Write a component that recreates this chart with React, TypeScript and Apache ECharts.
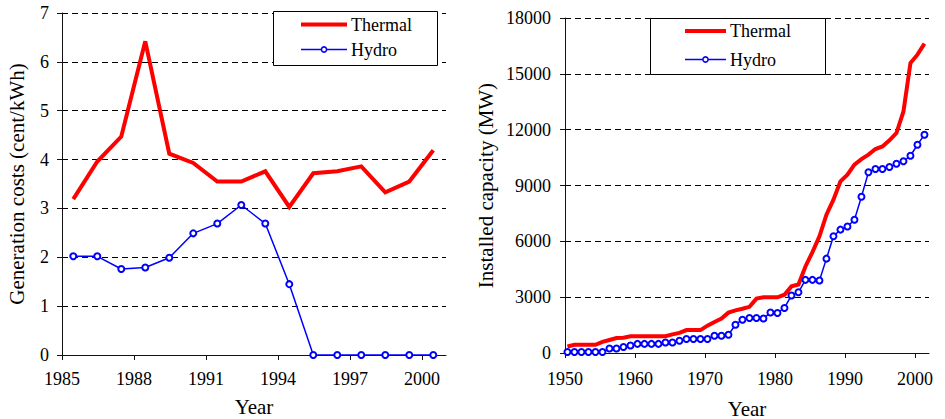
import { useEffect, useRef } from "react";
import * as echarts from "echarts";

// ---- Left chart: generation costs (cent/kWh) ----
const costYears = [1985, 1986, 1987, 1988, 1989, 1990, 1991, 1992, 1993, 1994, 1995, 1996, 1997, 1998, 1999, 2000];
const costThermal = [3.19, 3.96, 4.47, 6.42, 4.12, 3.93, 3.55, 3.55, 3.76, 3.03, 3.72, 3.76, 3.86, 3.33, 3.55, 4.19];
const costHydro = [2.02, 2.02, 1.76, 1.79, 1.99, 2.49, 2.69, 3.07, 2.69, 1.45, 0, 0, 0, 0, 0, 0];
const costXTicks = [1985, 1988, 1991, 1994, 1997, 2000];

// ---- Right chart: installed capacity (MW) ----
const capYears = [
  1950, 1951, 1952, 1953, 1954, 1955, 1956, 1957, 1958, 1959,
  1960, 1961, 1962, 1963, 1964, 1965, 1966, 1967, 1968, 1969,
  1970, 1971, 1972, 1973, 1974, 1975, 1976, 1977, 1978, 1979,
  1980, 1981, 1982, 1983, 1984, 1985, 1986, 1987, 1988, 1989,
  1990, 1991, 1992, 1993, 1994, 1995, 1996, 1997, 1998, 1999,
  2000, 2001,
];
const capThermal = [
  350, 440, 440, 440, 440, 600, 700, 800, 820, 900,
  900, 900, 900, 900, 900, 1000, 1080, 1230, 1230, 1230,
  1470, 1670, 1850, 2170, 2290, 2380, 2480, 2920, 2990, 2990,
  2990, 3130, 3580, 3680, 4650, 5420, 6270, 7430, 8240, 9220,
  9580, 10120, 10420, 10660, 10960, 11100, 11430, 11820, 12980, 15580,
  16030, 16620,
];
const capHydro = [
  50, 50, 50, 50, 50, 50, 240, 240, 320, 400,
  490, 490, 490, 490, 560, 560, 660, 750, 750, 750,
  750, 930, 930, 980, 1520, 1790, 1880, 1880, 1850, 2180,
  2150, 2420, 3090, 3260, 3930, 3930, 3900, 5070, 6270, 6630,
  6800, 7160, 8400, 9710, 9890, 9890, 9990, 10170, 10300, 10600,
  11190, 11730,
];
const capXTicks = [1950, 1960, 1970, 1980, 1990, 2000];

const seriesNames = ["Thermal", "Hydro"];

// values are yearly (mid-year) observations
const COST_OFFSET = 0.47;
const CAP_OFFSET = 0.35;

const FONT = "Liberation Serif";
const RED = "#ff0000";
const BLUE = "#0000ff";

function legendBox(x: number, y: number, w: number, h: number, lineX0: number, lineX1: number, row1: number, row2: number) {
  const textX = lineX1 + 4;
  const font = `18px "${FONT}"`;
  return {
    type: "group",
    z: 100,
    children: [
      { type: "rect", z: 100, shape: { x, y, width: w, height: h }, style: { fill: "#fff", stroke: "#000", lineWidth: 1 } },
      { type: "line", z: 101, shape: { x1: lineX0, y1: row1, x2: lineX1, y2: row1 }, style: { stroke: RED, lineWidth: 4 } },
      { type: "text", z: 101, x: textX, y: row1, style: { text: seriesNames[0], font, fill: "#000", verticalAlign: "middle" } },
      { type: "line", z: 101, shape: { x1: lineX0, y1: row2, x2: lineX1, y2: row2 }, style: { stroke: BLUE, lineWidth: 1.5 } },
      { type: "circle", z: 102, shape: { cx: (lineX0 + lineX1) / 2, cy: row2, r: 2.6 }, style: { fill: "#fff", stroke: BLUE, lineWidth: 1.5 } },
      { type: "text", z: 101, x: textX, y: row2, style: { text: seriesNames[1], font, fill: "#000", verticalAlign: "middle" } },
    ],
  };
}

export default function App() {
  const ref = useRef<HTMLDivElement>(null);

  useEffect(() => {
    if (!ref.current) return;
    const chart = echarts.init(ref.current, undefined, { renderer: "svg" });

    const pair = (xs: number[], ys: number[], off: number) => xs.map((x, i) => [x + off, ys[i]]);

    const labelStyle = { fontFamily: FONT, fontSize: 18, color: "#000" };
    const nameStyle = { fontFamily: FONT, fontSize: 21, color: "#000" };
    const axisLine = { show: true, lineStyle: { color: "#111", width: 1 } };
    const splitLine = { show: true, lineStyle: { color: "#000", width: 1, type: [6, 4] as any } };

    chart.setOption({
      animation: false,
      grid: [
        { left: 62, top: 13, width: 384, height: 342, containLabel: false, outerBoundsMode: "none" },
        { left: 565, top: 18, width: 364, height: 335, containLabel: false, outerBoundsMode: "none" },
      ],
      graphic: [
        legendBox(273.5, 11.5, 164, 54, 301, 347, 24.5, 49.5),
        legendBox(650.5, 18.5, 175, 56, 685, 726, 31, 59.5),
      ],
      xAxis: [
        {
          type: "value",
          gridIndex: 0,
          min: 1985,
          max: 2001,
          interval: 1,
          name: "Year",
          nameLocation: "middle",
          nameGap: 41,
          nameTextStyle: nameStyle,
          axisLine,
          axisTick: { show: true, length: 5, customValues: costXTicks, lineStyle: { color: "#111" } },
          axisLabel: { ...labelStyle, margin: 15, customValues: costXTicks, formatter: (v: number) => String(v) },
          splitLine: { show: false },
        },
        {
          type: "value",
          gridIndex: 1,
          min: 1950,
          max: 2002,
          interval: 1,
          name: "Year",
          nameLocation: "middle",
          nameGap: 45,
          nameTextStyle: nameStyle,
          axisLine,
          axisTick: { show: true, length: 5, customValues: capXTicks, lineStyle: { color: "#111" } },
          axisLabel: { ...labelStyle, margin: 17, customValues: capXTicks, formatter: (v: number) => String(v) },
          splitLine: { show: false },
        },
      ],
      yAxis: [
        {
          type: "value",
          gridIndex: 0,
          min: 0,
          max: 7,
          interval: 1,
          name: "Generation costs (cent/kWh)",
          nameLocation: "middle",
          nameRotate: 90,
          nameGap: 35,
          nameTextStyle: nameStyle,
          axisLine,
          axisTick: { show: true, length: 5, lineStyle: { color: "#111" } },
          axisLabel: { ...labelStyle, margin: 13, formatter: (v: number) => String(v) },
          splitLine,
        },
        {
          type: "value",
          gridIndex: 1,
          min: 0,
          max: 18000,
          interval: 3000,
          name: "Installed capacity (MW)",
          nameLocation: "middle",
          nameRotate: 90,
          nameGap: 69,
          nameTextStyle: nameStyle,
          axisLine,
          axisTick: { show: true, length: 5, lineStyle: { color: "#111" } },
          axisLabel: { ...labelStyle, margin: 14, formatter: (v: number) => String(v) },
          splitLine,
        },
      ],
      series: [
        {
          name: seriesNames[0],
          type: "line",
          xAxisIndex: 0,
          yAxisIndex: 0,
          data: pair(costYears, costThermal, COST_OFFSET),
          symbol: "none",
          lineStyle: { color: RED, width: 4, join: "miter" },
          itemStyle: { color: RED },
          z: 3,
        },
        {
          name: seriesNames[1],
          type: "line",
          xAxisIndex: 0,
          yAxisIndex: 0,
          data: pair(costYears, costHydro, COST_OFFSET),
          symbol: "emptyCircle",
          symbolSize: 6,
          lineStyle: { color: BLUE, width: 1.5 },
          itemStyle: { color: BLUE, borderWidth: 1.5 },
          z: 4,
        },
        {
          name: seriesNames[0],
          type: "line",
          xAxisIndex: 1,
          yAxisIndex: 1,
          data: pair(capYears, capThermal, CAP_OFFSET),
          symbol: "none",
          lineStyle: { color: RED, width: 4, join: "miter" },
          itemStyle: { color: RED },
          z: 3,
        },
        {
          name: seriesNames[1],
          type: "line",
          xAxisIndex: 1,
          yAxisIndex: 1,
          data: pair(capYears, capHydro, CAP_OFFSET),
          symbol: "emptyCircle",
          symbolSize: 6,
          lineStyle: { color: BLUE, width: 1.5 },
          itemStyle: { color: BLUE, borderWidth: 1.5 },
          z: 4,
        },
      ],
    });

    return () => chart.dispose();
  }, []);

  return (
    <div
      ref={ref}
      style={{ position: "fixed", left: 0, top: 0, width: 945, height: 419, background: "#fff" }}
    />
  );
}
